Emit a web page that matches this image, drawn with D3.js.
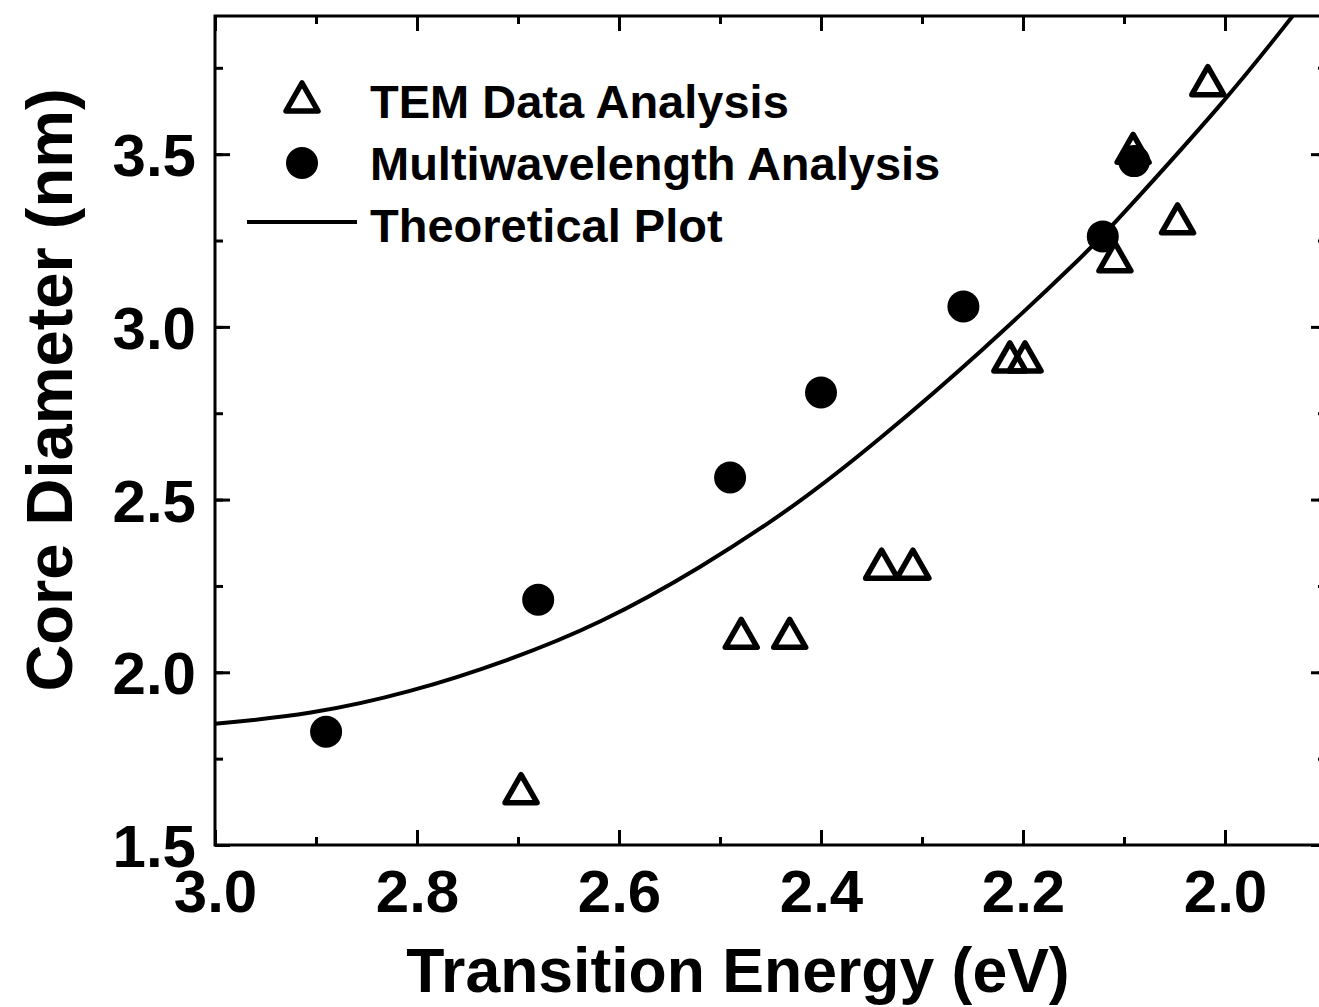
<!DOCTYPE html>
<html>
<head>
<meta charset="utf-8">
<script src="https://cdn.jsdelivr.net/npm/d3@7"></script>
<style>
  html, body { margin: 0; padding: 0; background: #fff; }
  svg { display: block; }
  text { font-family: "Liberation Sans", Arial, sans-serif; font-weight: bold; fill: #000; }
</style>
</head>
<body>
<svg id="chart" width="1319" height="1007"></svg>
<script>
// ---- Data ----
const temEnergy   = [2.697, 2.479, 2.431, 2.340, 2.309, 2.213, 2.198, 2.109, 2.091, 2.047, 2.017];
const temDiameter = [1.66, 2.11, 2.11, 2.31, 2.31, 2.91, 2.91, 3.20, 3.514, 3.31, 3.71];

const multiEnergy   = [2.890, 2.680, 2.490, 2.400, 2.259, 2.121, 2.090];
const multiDiameter = [1.828, 2.210, 2.564, 2.810, 3.059, 3.262, 3.480];

const theoryEnergy   = [3.000, 2.906, 2.807, 2.708, 2.619, 2.520, 2.421, 2.342, 2.243, 2.131, 2.111, 1.998, 1.933];
const theoryDiameter = [1.851, 1.877, 1.941, 2.035, 2.140, 2.300, 2.490, 2.674, 2.922, 3.232, 3.295, 3.659, 3.900];

const xTicks = [3.0, 2.8, 2.6, 2.4, 2.2, 2.0];
const yTicks = [1.5, 2.0, 2.5, 3.0, 3.5];
const legendLabels = ["TEM Data Analysis", "Multiwavelength Analysis", "Theoretical Plot"];
const xTitle = "Transition Energy (eV)";
const yTitle = "Core Diameter (nm)";

// ---- Layout ----
const pL = 215, pR = 1326, pT = 16, pB = 845;
const svg = d3.select("#chart");

const x = d3.scaleLinear().domain([3.0, 1.9]).range([pL, pR]);
const y = d3.scaleLinear().domain([1.5, 3.9]).range([pB, pT]);

svg.append("defs").append("clipPath").attr("id", "plotclip")
  .append("rect").attr("x", pL).attr("y", pT).attr("width", pR - pL).attr("height", pB - pT);

const fmt = d3.format(".1f");
const xMinor = d3.range(30, 18, -1).map(v => v / 10);
const yMinor = d3.range(6, 16).map(v => v / 4);

function styleAxis(g) {
  g.select(".domain").remove();
  g.selectAll("line").attr("stroke", "#000").attr("stroke-width", 3);
}

// bottom axis (ticks inward)
svg.append("g").attr("transform", `translate(0,${pB})`)
  .call(d3.axisBottom(x).tickValues(xMinor).tickSize(-8).tickFormat(""))
  .call(styleAxis);
svg.append("g").attr("transform", `translate(0,${pB})`)
  .call(d3.axisBottom(x).tickValues(xTicks).tickSize(-15).tickFormat(fmt))
  .call(styleAxis)
  .call(g => g.selectAll("text").attr("font-size", 60).attr("dy", 0).attr("y", 67));
// top axis
svg.append("g").attr("transform", `translate(0,${pT})`)
  .call(d3.axisTop(x).tickValues(xMinor).tickSize(-8).tickFormat(""))
  .call(styleAxis);
svg.append("g").attr("transform", `translate(0,${pT})`)
  .call(d3.axisTop(x).tickValues(xTicks).tickSize(-15).tickFormat(""))
  .call(styleAxis);
// left axis
svg.append("g").attr("transform", `translate(${pL},0)`)
  .call(d3.axisLeft(y).tickValues(yMinor).tickSize(-8).tickFormat(""))
  .call(styleAxis);
svg.append("g").attr("transform", `translate(${pL},0)`)
  .call(d3.axisLeft(y).tickValues(yTicks).tickSize(-15).tickFormat(fmt))
  .call(styleAxis)
  .call(g => g.selectAll("text").attr("font-size", 60).attr("x", -19).attr("dy", "0.36em"));
// right axis
svg.append("g").attr("transform", `translate(${pR},0)`)
  .call(d3.axisRight(y).tickValues(yMinor).tickSize(-8).tickFormat(""))
  .call(styleAxis);
svg.append("g").attr("transform", `translate(${pR},0)`)
  .call(d3.axisRight(y).tickValues(yTicks).tickSize(-15).tickFormat(""))
  .call(styleAxis);

// frame
svg.append("rect").attr("x", pL).attr("y", pT).attr("width", pR - pL).attr("height", pB - pT)
  .attr("fill", "none").attr("stroke", "#000").attr("stroke-width", 3);

// ---- Marks ----
const plot = svg.append("g").attr("clip-path", "url(#plotclip)");

const theory = theoryEnergy.map((e, i) => [e, theoryDiameter[i]]);
plot.append("path").datum(theory)
  .attr("fill", "none").attr("stroke", "#000").attr("stroke-width", 4)
  .attr("d", d3.line().x(d => x(d[0])).y(d => y(d[1])).curve(d3.curveBasis));

const triPath = "M0,-15L16,13L-16,13Z";
const tem = temEnergy.map((e, i) => [e, temDiameter[i]]);
plot.selectAll(".tem").data(tem).join("path")
  .attr("class", "tem")
  .attr("transform", d => `translate(${x(d[0])},${y(d[1])})`)
  .attr("d", triPath)
  .attr("fill", "none").attr("stroke", "#000").attr("stroke-width", 5.5).attr("stroke-linejoin", "round");

const multi = multiEnergy.map((e, i) => [e, multiDiameter[i]]);
plot.selectAll(".multi").data(multi).join("circle")
  .attr("class", "multi")
  .attr("cx", d => x(d[0])).attr("cy", d => y(d[1])).attr("r", 16)
  .attr("fill", "#000");

// ---- Legend ----
const legend = svg.append("g");
legend.append("path").attr("transform", "translate(302,98)").attr("d", triPath)
  .attr("fill", "none").attr("stroke", "#000").attr("stroke-width", 5.5).attr("stroke-linejoin", "round");
legend.append("circle").attr("cx", 302).attr("cy", 163).attr("r", 16).attr("fill", "#000");
legend.append("line").attr("x1", 247).attr("x2", 357).attr("y1", 222).attr("y2", 222)
  .attr("stroke", "#000").attr("stroke-width", 4);
legendLabels.forEach((t, i) => {
  legend.append("text").attr("x", 370).attr("y", 118 + i * 62).attr("font-size", 47).text(t);
});

// ---- Titles ----
svg.append("text").attr("x", 738).attr("y", 992).attr("text-anchor", "middle")
  .attr("font-size", 62.5).text(xTitle);
svg.append("text").attr("transform", "translate(72,390) rotate(-90)").attr("text-anchor", "middle")
  .attr("font-size", 65).text(yTitle);
</script>
</body>
</html>
